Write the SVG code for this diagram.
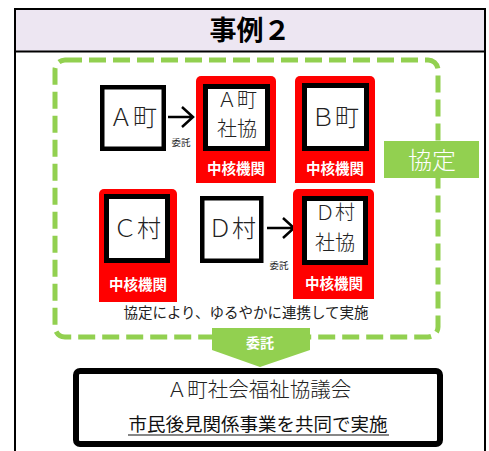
<svg xmlns="http://www.w3.org/2000/svg" width="489" height="451" viewBox="0 0 489 451">
<style>
.frame{fill:none;stroke:#000;stroke-width:2}
.box{fill:#fff;stroke:#000;stroke-width:4.5}
.ibox{fill:#fff;stroke:#000;stroke-width:5}
.red{fill:#f00}
.big{font-family:"Liberation Serif","Noto Sans CJK JP",serif;font-weight:300;fill:#222;text-anchor:middle}
.lbl{font-family:"Noto Sans CJK JP",sans-serif;font-weight:bold;font-size:14.5px;fill:#fff;text-anchor:middle}
.sm{font-family:"Noto Sans CJK JP",sans-serif;font-size:9.5px;fill:#222;text-anchor:middle}
.arr{fill:none;stroke:#000;stroke-width:2.5}
</style>
<rect x="15" y="9" width="470" height="42.5" fill="#EDE6F2"/>
<path class="frame" d="M15,460 V9 H485 V460 M15,51.5 H485"/>
<text x="250" y="40" font-family="Noto Sans CJK JP,sans-serif" font-weight="bold" font-size="27" text-anchor="middle" fill="#000">事例２</text>

<rect x="55" y="60" width="383" height="277" rx="10" fill="none" stroke="#92D050" stroke-width="5" stroke-dasharray="17 7"/>

<g id="connectors">
<path class="arr" d="M168,117 H192 M182,107 L193,117 L182,127"/>
<text class="sm" x="181" y="146">委託</text>
<path class="arr" d="M267,228 H293 M283,218 L294,228 L283,238"/>
<text class="sm" x="279" y="269">委託</text>
</g>

<g id="a-town">
<rect class="box" x="102.25" y="87.25" width="61.5" height="61.5"/>
<text class="big" x="133" y="126" font-size="24">Ａ町</text>
</g>

<g id="a-shakyo">
<rect class="red" x="196" y="76" width="80" height="84" rx="5"/>
<rect class="red" x="196" y="154" width="80" height="29"/>
<rect class="ibox" x="205.5" y="86.5" width="62" height="62"/>
<text class="big" x="237" y="107" font-size="20">Ａ町</text>
<text class="big" x="237" y="136" font-size="20">社協</text>
<text class="lbl" x="236" y="174">中核機関</text>
</g>

<g id="b-town">
<rect class="red" x="295" y="76" width="80" height="84" rx="5"/>
<rect class="red" x="295" y="154" width="80" height="29"/>
<rect class="ibox" x="304.5" y="85.5" width="62" height="63"/>
<text class="big" x="335" y="126" font-size="24">Ｂ町</text>
<text class="lbl" x="335" y="174">中核機関</text>
</g>

<g id="kyotei">
<rect x="384" y="141" width="95" height="37" fill="#92D050"/>
<text x="432" y="169" font-family="Noto Sans CJK JP,sans-serif" font-weight="300" font-size="24" fill="#fff" text-anchor="middle">協定</text>
</g>

<g id="c-village">
<rect class="red" x="99" y="189" width="78" height="82" rx="5"/>
<rect class="red" x="99" y="266" width="78" height="36"/>
<rect class="ibox" x="106.5" y="196.5" width="61" height="64"/>
<text class="big" x="137" y="237" font-size="24">Ｃ村</text>
<text class="lbl" x="138" y="290">中核機関</text>
</g>

<g id="d-village">
<rect class="box" x="202.25" y="198.25" width="59" height="62.5"/>
<text class="big" x="232" y="237" font-size="24">Ｄ村</text>
</g>

<g id="d-shakyo">
<rect class="red" x="293" y="189" width="81" height="82" rx="5"/>
<rect class="red" x="293" y="266" width="81" height="33"/>
<rect class="ibox" x="304.5" y="198.5" width="61" height="64"/>
<text class="big" x="335" y="220" font-size="20">Ｄ村</text>
<text class="big" x="335" y="250" font-size="20">社協</text>
<text class="lbl" x="334" y="289">中核機関</text>
</g>

<text x="246" y="318" font-family="Noto Sans CJK JP,sans-serif" font-size="14.5" fill="#222" text-anchor="middle">協定により、ゆるやかに連携して実施</text>

<g id="itaku">
<polygon points="212,328 310,328 310,350 260,367 212,350" fill="#92D050"/>
<text x="260" y="348" font-family="Noto Sans CJK JP,sans-serif" font-weight="bold" font-size="14" fill="#fff" text-anchor="middle">委託</text>
</g>

<g id="shakyo-council">
<rect x="76" y="371" width="364" height="73" rx="4" fill="#fff" stroke="#000" stroke-width="6"/>
<text class="big" x="259" y="397" font-size="20.5">Ａ町社会福祉協議会</text>
<text x="258" y="431" font-family="Noto Sans CJK JP,sans-serif" font-size="18.5" fill="#111" text-anchor="middle">市民後見関係事業を共同で実施</text>
<line x1="128" y1="435" x2="389" y2="435" stroke="#111" stroke-width="1.2"/>
</g>
</svg>
